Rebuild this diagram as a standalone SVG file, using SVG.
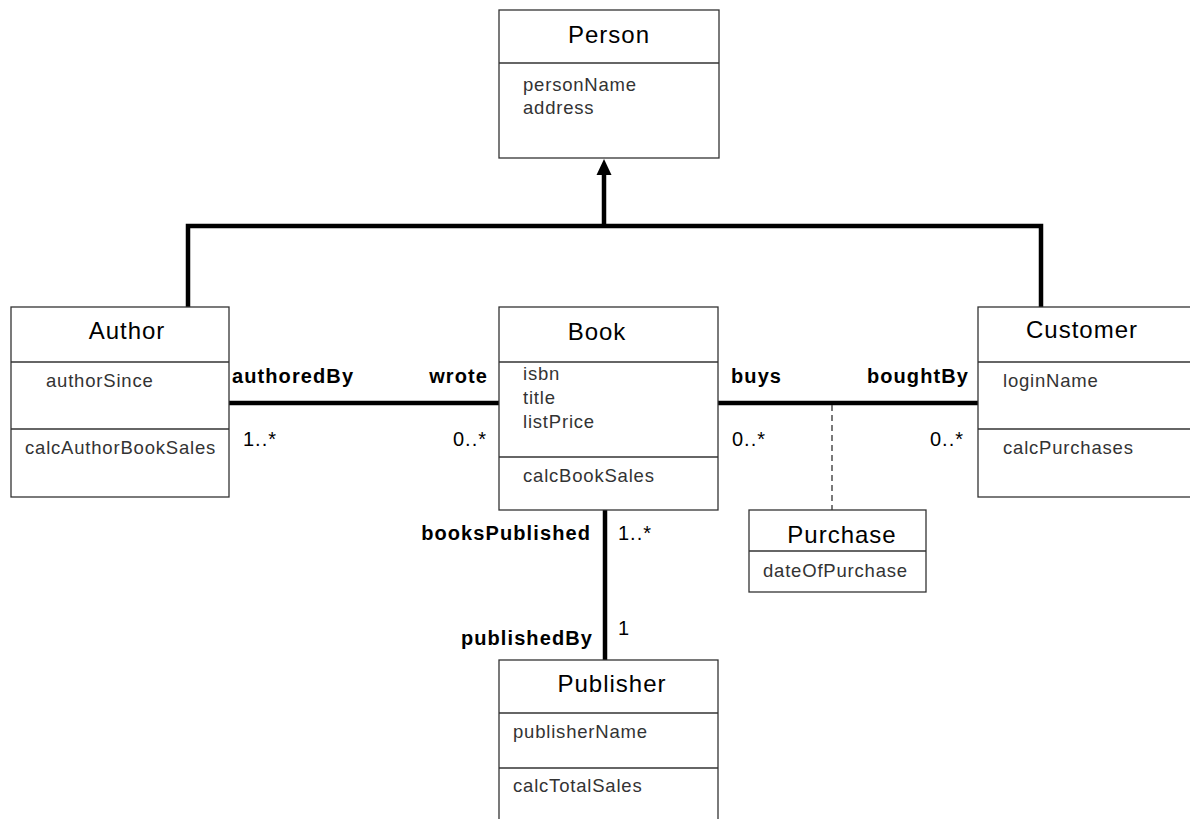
<svg xmlns="http://www.w3.org/2000/svg" width="1190" height="819" viewBox="0 0 1190 819">
<style>
.box{fill:#fff;stroke:#333;stroke-width:1.3}
.div{stroke:#333;stroke-width:1.3}
.title{font-family:"Liberation Sans",Arial,sans-serif;font-size:24px;letter-spacing:1px;fill:#000}
.attr{font-family:"Liberation Sans",Arial,sans-serif;font-size:18.5px;letter-spacing:0.8px;fill:#333}
.lbl{font-family:"Liberation Sans",Arial,sans-serif;font-size:20px;font-weight:bold;letter-spacing:1.1px;fill:#000}
.mult{font-family:"Liberation Sans",Arial,sans-serif;font-size:20px;letter-spacing:1px;fill:#000}
.con{stroke:#000;stroke-width:4.5;fill:none}
</style>
<rect width="1190" height="819" fill="#fff"/>
<g id="connectors">
<polyline class="con" points="188,307 188,226 1041,226 1041,307"/>
<line class="con" x1="604" y1="226" x2="604" y2="172"/>
<polygon points="604,159 596.5,175 611.5,175" fill="#000"/>
<line class="con" x1="229" y1="403" x2="499" y2="403"/>
<line class="con" x1="718" y1="403" x2="978" y2="403"/>
<line x1="832" y1="405" x2="832" y2="510" stroke="#333" stroke-width="1.3" stroke-dasharray="6,4"/>
<line class="con" x1="605" y1="510" x2="605" y2="660"/>
<text class="lbl" x="232" y="383">authoredBy</text>
<text class="lbl" x="488" y="383" text-anchor="end">wrote</text>
<text class="mult" x="243" y="446">1..*</text>
<text class="mult" x="487" y="446" text-anchor="end">0..*</text>
<text class="lbl" x="731" y="383">buys</text>
<text class="lbl" x="969" y="383" text-anchor="end">boughtBy</text>
<text class="mult" x="732" y="446">0..*</text>
<text class="mult" x="964" y="446" text-anchor="end">0..*</text>
<text class="lbl" x="591" y="540" text-anchor="end">booksPublished</text>
<text class="mult" x="618" y="540">1..*</text>
<text class="lbl" x="593" y="645" text-anchor="end">publishedBy</text>
<text class="mult" x="618" y="635">1</text>
</g>
<g id="Person">
<rect class="box" x="499" y="10" width="220" height="148"/>
<line class="div" x1="499" y1="63" x2="719" y2="63"/>
<text class="title" x="609" y="43" text-anchor="middle">Person</text>
<text class="attr" x="523" y="91">personName</text>
<text class="attr" x="523" y="114">address</text>
</g>
<g id="Author">
<rect class="box" x="11" y="307" width="218" height="190"/>
<line class="div" x1="11" y1="362" x2="229" y2="362"/>
<line class="div" x1="11" y1="429" x2="229" y2="429"/>
<text class="title" x="127" y="339" text-anchor="middle">Author</text>
<text class="attr" x="46" y="387">authorSince</text>
<text class="attr" x="25" y="454">calcAuthorBookSales</text>
</g>
<g id="Book">
<rect class="box" x="499" y="307" width="219" height="203"/>
<line class="div" x1="499" y1="362" x2="718" y2="362"/>
<line class="div" x1="499" y1="457" x2="718" y2="457"/>
<text class="title" x="597" y="340" text-anchor="middle">Book</text>
<text class="attr" x="523" y="380">isbn</text>
<text class="attr" x="523" y="404">title</text>
<text class="attr" x="523" y="428">listPrice</text>
<text class="attr" x="523" y="482">calcBookSales</text>
</g>
<g id="Customer">
<rect class="box" x="978" y="307" width="220" height="190"/>
<line class="div" x1="978" y1="362" x2="1190" y2="362"/>
<line class="div" x1="978" y1="429" x2="1190" y2="429"/>
<text class="title" x="1082" y="338" text-anchor="middle">Customer</text>
<text class="attr" x="1003" y="387">loginName</text>
<text class="attr" x="1003" y="454">calcPurchases</text>
</g>
<g id="Purchase">
<rect class="box" x="749" y="510" width="177" height="82"/>
<line class="div" x1="749" y1="551" x2="926" y2="551"/>
<text class="title" x="842" y="543" text-anchor="middle">Purchase</text>
<text class="attr" x="763" y="577">dateOfPurchase</text>
</g>
<g id="Publisher">
<rect class="box" x="499" y="660" width="219" height="170"/>
<line class="div" x1="499" y1="713" x2="718" y2="713"/>
<line class="div" x1="499" y1="768" x2="718" y2="768"/>
<text class="title" x="612" y="692" text-anchor="middle">Publisher</text>
<text class="attr" x="513" y="738">publisherName</text>
<text class="attr" x="513" y="792">calcTotalSales</text>
</g>
</svg>
